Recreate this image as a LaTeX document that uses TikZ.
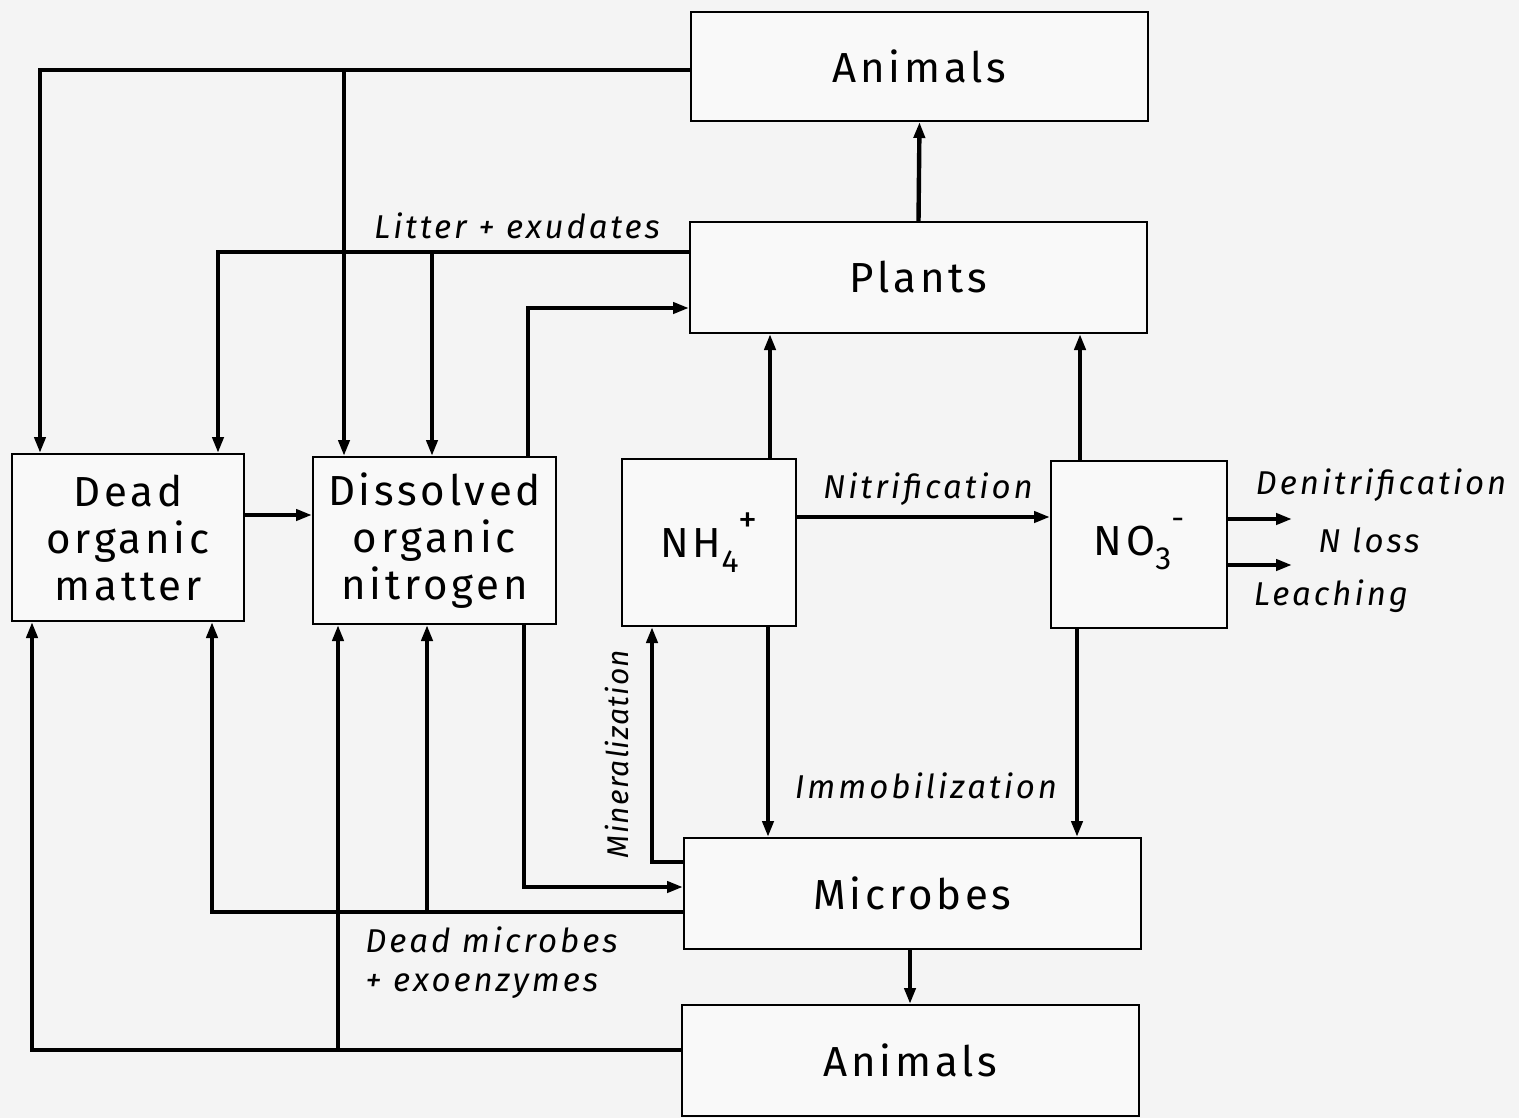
\documentclass[tikz,border=0pt]{standalone}
\usepackage{fontspec}
\setmainfont{Fira Sans}[LetterSpace=9]
\usetikzlibrary{arrows.meta}
\begin{document}
\begin{tikzpicture}[x=0.5pt,y=-0.5pt,
  box/.style={draw=black,line width=1pt,fill=white!60!gray!12,inner sep=0pt,align=center,
    font=\fontsize{21pt}{23.5pt}\selectfont},
  conn/.style={line width=2.2pt},
  arr/.style={conn,-{Triangle[length=8pt,width=5.5pt]}},
  lab/.style={font=\fontsize{16.5pt}{19pt}\selectfont\itshape,inner sep=0pt}]
\useasboundingbox[fill=gray!9] (0,0) rectangle (1519,1118);
% boxes
\node[box,minimum width=228.5pt,minimum height=54.5pt] (anT) at (919.5,66.5) {Animals};
\node[box,minimum width=228.5pt,minimum height=55.5pt] (pl) at (918.5,277.5) {Plants};
\node[box,minimum width=116pt,minimum height=83.5pt] (dom) at (128,537.5) {Dead\\organic\\matter};
\node[box,minimum width=121.5pt,minimum height=83.5pt] (don) at (434.5,540.5) {Dissolved\\organic\\nitrogen};
\node[box,minimum width=87pt,minimum height=83.5pt] (nh) at (709,542.5) {NH\raisebox{-0.35em}{\fontsize{16pt}{16pt}\selectfont 4}\raisebox{0.6em}{\fontsize{19pt}{19pt}\selectfont +}};
\node[box,minimum width=88pt,minimum height=83.5pt] (no) at (1139,544.5) {NO\raisebox{-0.35em}{\fontsize{16pt}{16pt}\selectfont 3}\raisebox{0.6em}{\fontsize{16pt}{16pt}\selectfont -}};
\node[box,minimum width=228.5pt,minimum height=55.5pt] (mic) at (912.5,893.5) {Microbes};
\node[box,minimum width=228.5pt,minimum height=55.5pt] (anB) at (910.5,1060.5) {Animals};
% free ends
\coordinate (e1) at (1292,519);
\coordinate (e2) at (1292,565);
% top animals to DOM and DON
\draw[arr] (anT.west |- 0,70) -| (40,0 |- dom.north);
\draw[arr] (344,70) -- (344,0 |- don.north);
% litter + exudates
\draw[arr] (pl.west |- 0,252) -| (218,0 |- dom.north);
\draw[arr] (432,252) -- (432,0 |- don.north);
\node[lab] (litter) at (517,226) {Litter + exudates};
% DON to plants
\draw[arr] (528,0 |- don.north) |- (pl.west |- 0,308);
% plants to animals
\draw[arr] (pl.north) -- (anT.south);
% NH4 and NO3 uptake
\draw[arr] (770,0 |- nh.north) -- (770,0 |- pl.south);
\draw[arr] (1080,0 |- no.north) -- (1080,0 |- pl.south);
% nitrification
\draw[arr] (nh.east |- 0,517) -- (no.west |- 0,517);
\node[lab] (nitr) at (928,489) {Nitrification};
% N loss
\draw[arr] (no.east |- e1) -- (e1);
\draw[arr] (no.east |- e2) -- (e2);
\node[lab] (denit) at (1381,485) {Denitrification};
\node[lab] (nloss) at (1369,540) {N loss};
\node[lab] (leach) at (1331,596) {Leaching};
% DOM to DON
\draw[arr] (dom.east |- 0,515) -- (don.west |- 0,515);
% immobilization
\draw[arr] (768,0 |- nh.south) -- (768,0 |- mic.north);
\draw[arr] (1077,0 |- no.south) -- (1077,0 |- mic.north);
\node[lab] (immo) at (926,786) {Immobilization};
% mineralization
\draw[arr] (mic.west |- 0,862) -| (652,0 |- nh.south);
\node[lab,rotate=90,font=\fontsize{15pt}{18pt}\selectfont\itshape\addfontfeature{LetterSpace=4}] (mine) at (617,754) {Mineralization};
% DON to microbes
\draw[arr] (524,0 |- don.south) |- (mic.west |- 0,887);
% dead microbes
\draw[arr] (mic.west |- 0,912) -| (212,0 |- dom.south);
\draw[arr] (427,912) -- (427,0 |- don.south);
\node[lab,anchor=west,align=left] (deadm) at (365,963) {Dead microbes\\[0.5pt]+ exoenzymes};
% bottom animals
\draw[arr] (anB.west |- 0,1050) -| (32,0 |- dom.south);
\draw[arr] (338,1050) -- (338,0 |- don.south);
% microbes to animals
\draw[arr] (910,0 |- mic.south) -- (910,0 |- anB.north);
\end{tikzpicture}
\end{document}
